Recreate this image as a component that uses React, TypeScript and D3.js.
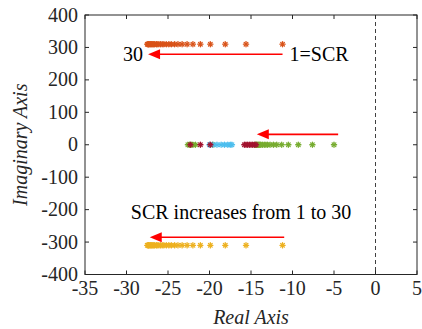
import React from "react";
import * as d3 from "d3";

const W = 422;
const H = 329;

const xTicks = [-35, -30, -25, -20, -15, -10, -5, 0, 5];
const yTicks = [-400, -300, -200, -100, 0, 100, 200, 300, 400];

// Upper complex pole (SCR 1..30)
const upperRe = [-11.2, -15.6, -18.1, -19.9, -21.1, -22.0, -22.7, -23.3, -23.8, -24.2, -24.6, -24.9, -25.2, -25.5, -25.7, -25.9, -26.1, -26.3, -26.4, -26.6, -26.7, -26.8, -26.9, -27.0, -27.1, -27.2, -27.3, -27.35, -27.4, -27.5];
const upperIm = 310;
// Lower complex pole
const lowerRe = [-11.2, -15.6, -18.1, -19.9, -21.1, -22.0, -22.7, -23.3, -23.8, -24.2, -24.6, -24.9, -25.2, -25.5, -25.7, -25.9, -26.1, -26.3, -26.4, -26.6, -26.7, -26.8, -26.9, -27.0, -27.1, -27.2, -27.3, -27.35, -27.4, -27.5];
const lowerIm = -310;
// Real poles
const greenRe = [-5.0, -7.6, -9.3, -10.5, -11.3, -11.9, -12.3, -12.7, -13.0, -13.2, -13.4, -13.6, -13.8, -13.9, -14.0, -14.1, -14.2, -14.3, -14.4, -14.5, -19.6, -21.7, -22.0, -22.2, -22.4, -22.6];
const blueRe = [-17.3, -17.5, -17.8, -18.2, -18.6, -19.1, -19.6, -20.0];
const maroonRe = [-14.4, -14.6, -14.8, -15.0, -15.2, -15.4, -15.6, -15.8, -19.9, -21.1, -22.3];

// Arrows: [xFrom, xTo, y]
const arrows = [
  [-11.2, -27.4, 279],
  [-4.5, -14.3, 32],
  [-11.0, -27.2, -285],
];

const margin = { left: 85, right: 5, top: 15, bottom: 54.5 };
const x = d3.scaleLinear().domain([-35, 5]).range([margin.left, W - margin.right]);
const y = d3.scaleLinear().domain([-400, 400]).range([H - margin.bottom, margin.top]);

const fontStyle = { fontFamily: "'Liberation Serif'" };
const axisColor = "#262626";

function Star({ cx, cy, color }: { cx: number; cy: number; color: string }) {
  const r = 2.6;
  const d = 0.707 * r;
  return (
    <g stroke={color} strokeWidth={1.3} strokeLinecap="round">
      <line x1={cx - r} y1={cy} x2={cx + r} y2={cy} />
      <line x1={cx} y1={cy - r} x2={cx} y2={cy + r} />
      <line x1={cx - d} y1={cy - d} x2={cx + d} y2={cy + d} />
      <line x1={cx - d} y1={cy + d} x2={cx + d} y2={cy - d} />
    </g>
  );
}

function Arrow({ x1, x2, yv }: { x1: number; x2: number; yv: number }) {
  const px1 = x(x1);
  const px2 = x(x2);
  const py = y(yv);
  const hl = 12;
  const hw = 5;
  return (
    <g>
      <line x1={px1} y1={py} x2={px2 + hl - 1} y2={py} stroke="#ff0000" strokeWidth={1.6} />
      <path d={`M${px2},${py} L${px2 + hl},${py - hw} L${px2 + hl},${py + hw} Z`} fill="#ff0000" />
    </g>
  );
}

export default function App() {
  const x0 = x.range()[0];
  const x1 = x.range()[1];
  const y0 = y.range()[0];
  const y1 = y.range()[1];
  const tl = 4;
  return (
    <svg width={W} height={H} style={{ position: "absolute", left: 0, top: 0, background: "#fff" }}>
      <rect x={0} y={0} width={W} height={H} fill="#fff" />
      {/* dashed zero line */}
      <line x1={x(0)} y1={y1} x2={x(0)} y2={y0} stroke="#404040" strokeWidth={1} strokeDasharray="4,3" />
      {/* series */}
      {upperRe.map((v, i) => <Star key={"u" + i} cx={x(v)} cy={y(upperIm)} color="#D95319" />)}
      {lowerRe.map((v, i) => <Star key={"l" + i} cx={x(v)} cy={y(lowerIm)} color="#EDB120" />)}
      {greenRe.map((v, i) => <Star key={"g" + i} cx={x(v)} cy={y(0)} color="#77AC30" />)}
      {blueRe.map((v, i) => <Star key={"b" + i} cx={x(v)} cy={y(0)} color="#4DBEEE" />)}
      {maroonRe.map((v, i) => <Star key={"m" + i} cx={x(v)} cy={y(0)} color="#A2142F" />)}
      {/* arrows */}
      {arrows.map((a, i) => <Arrow key={"a" + i} x1={a[0]} x2={a[1]} yv={a[2]} />)}
      {/* annotations */}
      <text style={fontStyle} x={x(-27.4) - 5} y={y(279) + 7} fontSize={20} textAnchor="end" fill="#000">30</text>
      <text style={fontStyle} x={x(-11.2) + 7} y={y(279) + 7} fontSize={20} fill="#000">1=SCR</text>
      <text style={fontStyle} x={x(-16.2)} y={219} fontSize={20} textAnchor="middle" fill="#000">SCR increases from 1 to 30</text>
      {/* box */}
      <rect x={x0} y={y1} width={x1 - x0} height={y0 - y1} fill="none" stroke={axisColor} strokeWidth={1} />
      {xTicks.map((t) => (
        <g key={"xt" + t}>
          <line x1={x(t)} x2={x(t)} y1={y0} y2={y0 - tl} stroke={axisColor} />
          <line x1={x(t)} x2={x(t)} y1={y1} y2={y1 + tl} stroke={axisColor} />
          <text style={fontStyle} x={x(t)} y={y0 + 20} fontSize={20} textAnchor="middle" fill={axisColor}>{t}</text>
        </g>
      ))}
      {yTicks.map((t) => (
        <g key={"yt" + t}>
          <line x1={x0} x2={x0 + tl} y1={y(t)} y2={y(t)} stroke={axisColor} />
          <line x1={x1} x2={x1 - tl} y1={y(t)} y2={y(t)} stroke={axisColor} />
          <text style={fontStyle} x={x0 - 7} y={y(t) + 6.5} fontSize={20} textAnchor="end" fill={axisColor}>{t}</text>
        </g>
      ))}
      <text style={fontStyle} x={(x0 + x1) / 2} y={324} fontSize={20} fontStyle="italic" textAnchor="middle" fill={axisColor}>Real Axis</text>
      <text style={fontStyle} transform={`translate(27,${(y0 + y1) / 2}) rotate(-90)`} fontSize={20} fontStyle="italic" textAnchor="middle" fill={axisColor}>Imaginary Axis</text>
    </svg>
  );
}
